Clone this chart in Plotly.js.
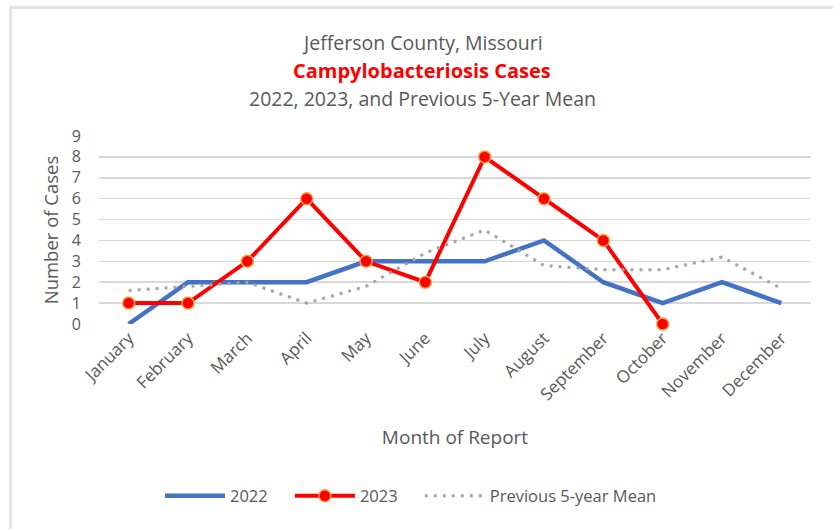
<!DOCTYPE html>
<html>
<head>
<meta charset="utf-8">
<script src="https://cdn.plot.ly/plotly-3.0.1.min.js"></script>
<style>
html,body{margin:0;padding:0;background:#fff;}
#wrap{position:relative;width:833px;height:529px;overflow:hidden;}
#chart{position:absolute;left:0;top:0;width:833px;height:529px;}
#frame{position:absolute;left:9px;top:6px;width:830px;height:530px;border-left:3px solid #e4e4e4;border-top:3px solid #e4e4e4;pointer-events:none;}
</style>
</head>
<body>
<div id="wrap"><div id="chart"></div><div id="frame"></div></div>
<script>
const months = ["January","February","March","April","May","June","July","August","September","October","November","December"];
const cases2022 = [0,2,2,2,3,3,3,4,2,1,2,1];
const cases2023 = [1,1,3,6,3,2,8,6,4,0,null,null];
const mean5yr = [1.6,1.8,2.0,1.0,1.8,3.4,4.5,2.8,2.6,2.6,3.2,1.7];
const yTicks = [0,1,2,3,4,5,6,7,8,9];
const seriesNames = ['2022', '2023', 'Previous 5-year Mean'];

const txt = '#595959';
const font = 'Open Sans, Noto Sans, sans-serif';

const H = 529, MT = 136, MB = 205;
const plotH = H - MT - MB;
function py(p) { return (H - MB - p) / plotH; }
const titleX = (422 - 99) / 712;
const pad = '\u00a0\u00a0\u00a0\u00a0';

const traces = [
  {x: months, y: cases2022, name: seriesNames[0] + pad, type: 'scatter', mode: 'lines',
   line: {color: '#4472C4', width: 4.5}, cliponaxis: false},
  {x: months, y: cases2023, name: seriesNames[1] + pad, type: 'scatter', mode: 'lines+markers',
   line: {color: '#FF0000', width: 4},
   marker: {color: '#FF0000', size: 12, line: {color: '#F5A040', width: 1.5}},
   cliponaxis: false},
  {x: months, y: mean5yr, name: seriesNames[2], type: 'scatter', mode: 'lines',
   line: {color: '#A5A5A5', width: 3, dash: '3px,6px'}, cliponaxis: false}
];

const layout = {
  width: 833, height: H,
  paper_bgcolor: '#fff', plot_bgcolor: '#fff',
  margin: {l: 99, r: 22, t: MT, b: MB},
  font: {family: font, color: txt, size: 14},
  showlegend: true,
  legend: {orientation: 'h', x: 411/833, xanchor: 'center', xref: 'container',
           y: 1 - 496/H, yref: 'container', yanchor: 'middle',
           itemwidth: 60, font: {size: 16.5, color: txt}, traceorder: 'normal'},
  xaxis: {type: 'category', range: [-0.5, 11.5], tickangle: -45,
          showgrid: false, zeroline: false, showline: false, ticks: '',
          tickfont: {size: 17, color: txt},
          title: {text: 'Month of Report', font: {size: 19, color: txt}, standoff: 26}},
  yaxis: {range: [0, 9], tickvals: yTicks, showgrid: true, gridcolor: '#D9D9D9', gridwidth: 1.5,
          zeroline: false, showline: false, ticks: '', ticklabelstandoff: 17,
          tickfont: {size: 16, color: txt},
          title: {text: 'Number of Cases', font: {size: 18.5, color: txt}, standoff: 8}},
  annotations: [
    {text: 'Jefferson County, Missouri', xref: 'paper', yref: 'paper', x: titleX, y: py(42),
     showarrow: false, font: {size: 19.5, color: txt}, yanchor: 'middle'},
    {text: '<b>Campylobacteriosis Cases</b>', xref: 'paper', yref: 'paper', x: titleX, y: py(70),
     showarrow: false, font: {size: 20, color: '#FF0000'}, yanchor: 'middle'},
    {text: '2022, 2023, and Previous 5-Year Mean', xref: 'paper', yref: 'paper', x: titleX, y: py(98),
     showarrow: false, font: {size: 19.5, color: txt}, yanchor: 'middle'}
  ]
};

Plotly.newPlot('chart', traces, layout, {displayModeBar: false, staticPlot: true});
</script>
</body>
</html>
